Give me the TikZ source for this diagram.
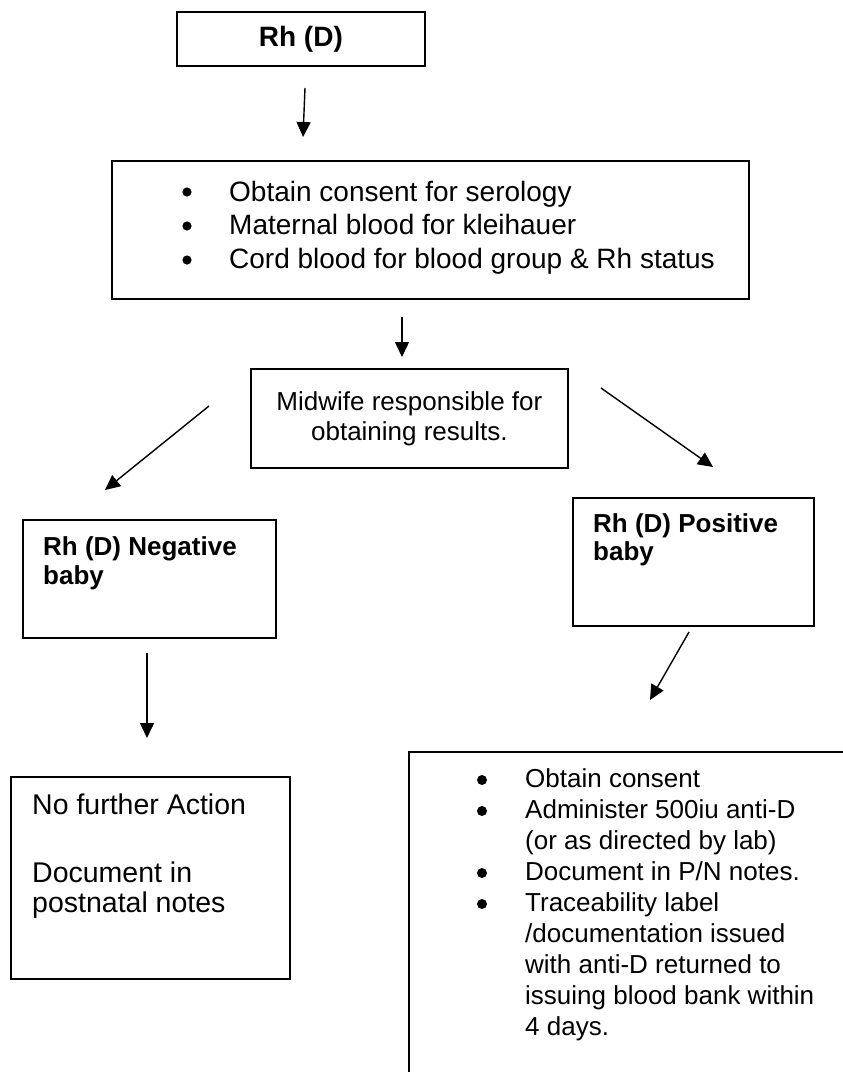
\documentclass[tikz,border=0pt]{standalone}
\usepackage{fontspec}
\setmainfont{Liberation Sans}
\usetikzlibrary{arrows.meta}

\tikzset{
  box/.style={draw, line width=1.8pt, anchor=north west, inner sep=0pt},
  boxtext/.style={anchor=north west, inner sep=0pt, align=left},
  flowarrow/.style={-{Triangle[length=15pt,width=14pt]}, line width=1.4pt},
}

\begin{document}
\begin{tikzpicture}[x=1pt,y=-1pt]
        \useasboundingbox (0,0) rectangle (843,1072);
        \fill[white] (0,0) rectangle (843,1072);
        \clip (0,0) rectangle (843,1072);

        \node[box, minimum width=248, minimum height=54, font=\fontsize{28}{32}\selectfont\bfseries] (rh) at (176,11) {Rh (D)};

        \node[box, minimum width=637, minimum height=138] (tests) at (111,160) {};
        \node[boxtext, font=\fontsize{28}{33.5}\selectfont] (teststext) at (229,181)
            {Obtain consent for serology\\
             Maternal blood for kleihauer\\
             Cord blood for blood group \& Rh status};
        \fill (187,192) circle (4.6);
        \fill (187,226) circle (4.6);
        \fill (187,260) circle (4.6);

        \node[box, minimum width=317, minimum height=99, align=center, font=\fontsize{26}{30}\selectfont] (midwife) at (250,368)
            {Midwife responsible for\\obtaining results.};

        \node[box, minimum width=253, minimum height=118] (negbaby) at (22,519) {};
        \node[boxtext, font=\fontsize{26}{29}\selectfont\bfseries] (negtext) at (43,536) {Rh (D) Negative\\baby};

        \node[box, minimum width=241, minimum height=128] (posbaby) at (572,497) {};
        \node[boxtext, font=\fontsize{26}{28}\selectfont\bfseries] (postext) at (593,513) {Rh (D) Positive\\baby};

        \node[box, minimum width=279, minimum height=202] (nofurther) at (10,776) {};
        \node[boxtext, font=\fontsize{28.5}{30}\selectfont] (nofurthertext) at (32,794)
            {No further Action\\[38pt]Document in\\postnatal notes};

        \node[box, minimum width=500, minimum height=400] (antid) at (408,751) {};
        \node[boxtext, font=\fontsize{26}{31}\selectfont] (antidtext) at (525,768)
            {Obtain consent\\
             Administer 500iu anti-D\\
             (or as directed by lab)\\
             Document in P/N notes.\\
             Traceability label\\
             /documentation issued\\
             with anti-D returned to\\
             issuing blood bank within\\
             4 days.};
        \fill (482,780) circle (5);
        \fill (482,811) circle (5);
        \fill (482,873) circle (5);
        \fill (482,904) circle (5);

        \coordinate (rhout) at (305,88);
        \coordinate (testsin) at (303,137);
        \coordinate (testsout) at (402,317);
        \coordinate (midwifein) at (402,357);
        \coordinate (negout) at (209,406);
        \coordinate (negin) at (105,490);
        \coordinate (posout) at (601,388);
        \coordinate (posin) at (713,467);
        \coordinate (nofurtherout) at (147,653);
        \coordinate (nofurtherin) at (147,738);
        \coordinate (antidout) at (689,632);
        \coordinate (antidin) at (650,700);

        \draw[flowarrow] (rhout) -- (testsin);
        \draw[flowarrow] (testsout) -- (midwifein);
        \draw[flowarrow] (negout) -- (negin);
        \draw[flowarrow] (posout) -- (posin);
        \draw[flowarrow] (nofurtherout) -- (nofurtherin);
        \draw[flowarrow] (antidout) -- (antidin);
\end{tikzpicture}
\end{document}
